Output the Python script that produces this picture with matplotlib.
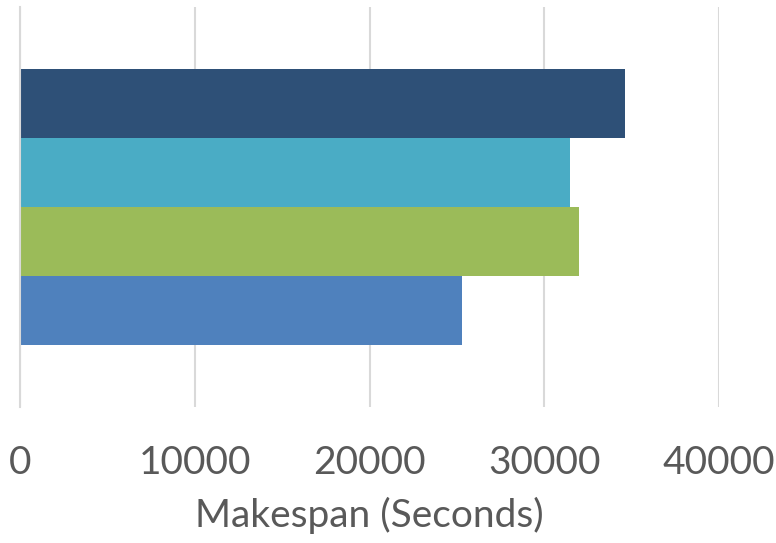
#!/usr/bin/env python3

import matplotlib
matplotlib.use("Agg")
import matplotlib.pyplot as plt

# bars, top to bottom
series = ["A", "B", "C", "D"]
makespan = [34610, 31470, 31980, 25290]
colors = ["#2e5077", "#4aacc5", "#9bbb59", "#4f81bd"]
xticks = [0, 10000, 20000, 30000, 40000]

plt.rcParams['font.family'] = ['Lato', 'DejaVu Sans']


def main():
    fig = plt.figure(figsize=(7.76, 5.43), dpi=100)
    ax = fig.add_axes([20 / 776, 136 / 543, 699 / 776, 400 / 543])

    n = len(makespan)
    pos = [(n - 1) / 2 - i for i in range(n)]
    ax.barh(pos, makespan, height=1.0, color=colors, zorder=2)

    ax.set_xlim(0, 40000)
    ax.set_ylim(-2.9, 2.9)
    ax.set_xticks(xticks)
    ax.set_xticklabels([str(t) for t in xticks])
    ax.set_yticks([])
    ax.grid(axis='x', color='#d9d9d9', linewidth=1.5, zorder=0)
    for s in ['top', 'right', 'bottom']:
        ax.spines[s].set_visible(False)
    ax.spines['left'].set_color('#d9d9d9')
    ax.spines['left'].set_linewidth(1.5)
    ax.tick_params(axis='x', length=0, pad=27, labelsize=28, labelcolor='#595959')
    ax.set_xlabel("Makespan (Seconds)", fontsize=28, color='#595959', labelpad=12)

    fig.savefig("out.png", dpi=100)


if __name__ == "__main__":
    main()
